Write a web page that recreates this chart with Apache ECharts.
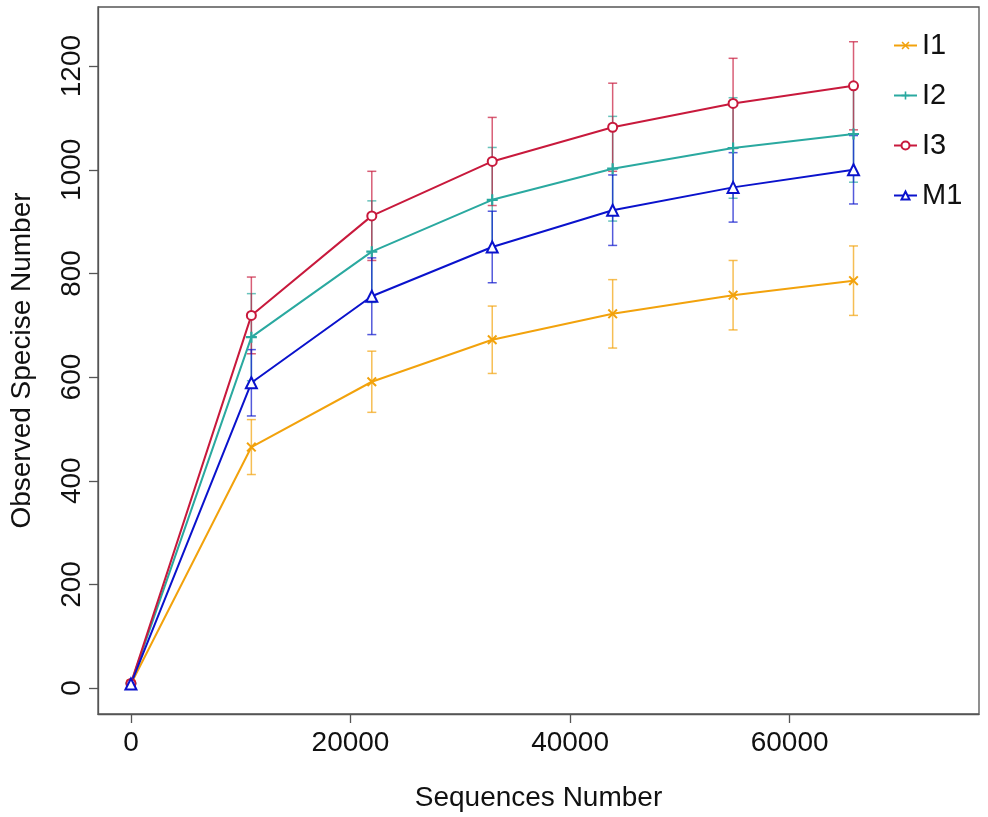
<!DOCTYPE html>
<html>
<head>
<meta charset="utf-8">
<script src="https://cdn.jsdelivr.net/npm/echarts@6/dist/echarts.min.js"></script>
<style>html,body{margin:0;padding:0;background:#fff}#c{width:988px;height:817px}</style>
</head>
<body>
<div id="c"></div>
<script>
// Sequencing depth (x) and observed species per group
const seqDepth = [0, 10970, 21940, 32910, 43880, 54850, 65820];
const I1 = [8, 465, 591, 672, 722, 758, 786];
const I1err = [0, 53, 59, 65, 66, 67, 67];
const I2 = [9, 677, 842, 942, 1002, 1042, 1069];
const I2err = [0, 84, 98, 101, 101, 97, 93];
const I3 = [9, 719, 911, 1016, 1082, 1128, 1162];
const I3err = [0, 74, 86, 85, 85, 87, 85];
const M1 = [8, 589, 756, 851, 922, 966, 1000];
const M1err = [0, 64, 74, 69, 68, 67, 66];
const xTicks = [0, 20000, 40000, 60000];
const yTicks = [0, 200, 400, 600, 800, 1000, 1200];

const groups = [
  {name: 'I1', vals: I1, err: I1err, color: '#F2A20C',
   symbol: 'path://M0,1.4 L1.4,0 L5,3.6 L8.6,0 L10,1.4 L6.4,5 L10,8.6 L8.6,10 L5,6.4 L1.4,10 L0,8.6 L3.6,5 Z', size: 10, empty: false},
  {name: 'I2', vals: I2, err: I2err, color: '#2AA9A0',
   symbol: 'path://M4,0 H6 V4 H10 V6 H6 V10 H4 V6 H0 V4 H4 Z', size: 11, empty: false},
  {name: 'I3', vals: I3, err: I3err, color: '#C8193C', symbol: 'emptyCircle', size: 9, empty: true},
  {name: 'M1', vals: M1, err: M1err, color: '#0A12CC', symbol: 'emptyTriangle', size: 11, empty: true}
];

const FONT = '"Liberation Sans", Arial, Helvetica, sans-serif';
const series = [];
groups.forEach(g => {
  const errData = [];
  seqDepth.forEach((x, i) => { if (g.err[i] > 0) errData.push([x, g.vals[i] - g.err[i], g.vals[i] + g.err[i]]); });
  series.push({
    name: g.name + ' sd', type: 'custom', z: 3, silent: true,
    data: errData,
    encode: {x: 0, y: [1, 2]},
    renderItem: function (params, api) {
      const x = api.value(0), lo = api.value(1), hi = api.value(2);
      const a = api.coord([x, hi]), b = api.coord([x, lo]);
      const w = 4.5;
      const st = {stroke: g.color, lineWidth: 1.5, opacity: 0.7};
      return {type: 'group', children: [
        {type: 'line', shape: {x1: a[0], y1: a[1], x2: b[0], y2: b[1]}, style: st},
        {type: 'line', shape: {x1: a[0] - w, y1: a[1], x2: a[0] + w, y2: a[1]}, style: st},
        {type: 'line', shape: {x1: b[0] - w, y1: b[1], x2: b[0] + w, y2: b[1]}, style: st}
      ]};
    }
  });
  series.push({
    name: g.name, type: 'line', z: 4,
    data: seqDepth.map((x, i) => [x, g.vals[i]]),
    symbol: g.symbol, symbolSize: g.size, showAllSymbol: true,
    lineStyle: {color: g.color, width: 2},
    itemStyle: g.empty ? {color: g.color, borderColor: g.color, borderWidth: 2} : {color: g.color, borderWidth: 0},
    emphasis: {disabled: true},
    animation: false
  });
});

const plain = v => String(v);
const chart = echarts.init(document.getElementById('c'), null, {renderer: 'canvas'});
chart.setOption({
  animation: false,
  backgroundColor: '#fff',
  grid: {left: 97, right: 9, top: 7, bottom: 102, show: true, borderColor: '#555', borderWidth: 1.3, containLabel: false},
  legend: {
    data: groups.map(g => g.name), orient: 'vertical', left: 888, top: 26,
    itemWidth: 23, itemHeight: 10, itemGap: 21,
    textStyle: {fontSize: 29, fontFamily: FONT, color: '#111', lineHeight: 28, padding: [0, 0, 0, 0]},
    selectedMode: false
  },
  xAxis: {
    type: 'value', min: -3000, max: 77250,
    name: 'Sequences Number', nameLocation: 'middle', nameGap: 70,
    nameTextStyle: {fontSize: 28, fontFamily: FONT, color: '#111'},
    axisLine: {show: true, onZero: false, lineStyle: {color: '#555', width: 1.3}},
    axisTick: {show: true, length: 9, customValues: xTicks, lineStyle: {color: '#555', width: 1.3}},
    axisLabel: {fontSize: 28, fontFamily: FONT, color: '#111', margin: 15, customValues: xTicks, formatter: plain},
    splitLine: {show: false}
  },
  yAxis: {
    type: 'value', min: -50, max: 1314,
    name: 'Observed Specise Number', nameLocation: 'middle', nameGap: 62,
    nameTextStyle: {fontSize: 28, fontFamily: FONT, color: '#111'},
    axisLine: {show: true, onZero: false, lineStyle: {color: '#555', width: 1.3}},
    axisTick: {show: true, length: 9, customValues: yTicks, lineStyle: {color: '#555', width: 1.3}},
    axisLabel: {fontSize: 28, fontFamily: FONT, color: '#111', margin: 12, rotate: 90, customValues: yTicks, formatter: plain},
    splitLine: {show: false}
  },
  series: series
});
</script>
</body>
</html>
